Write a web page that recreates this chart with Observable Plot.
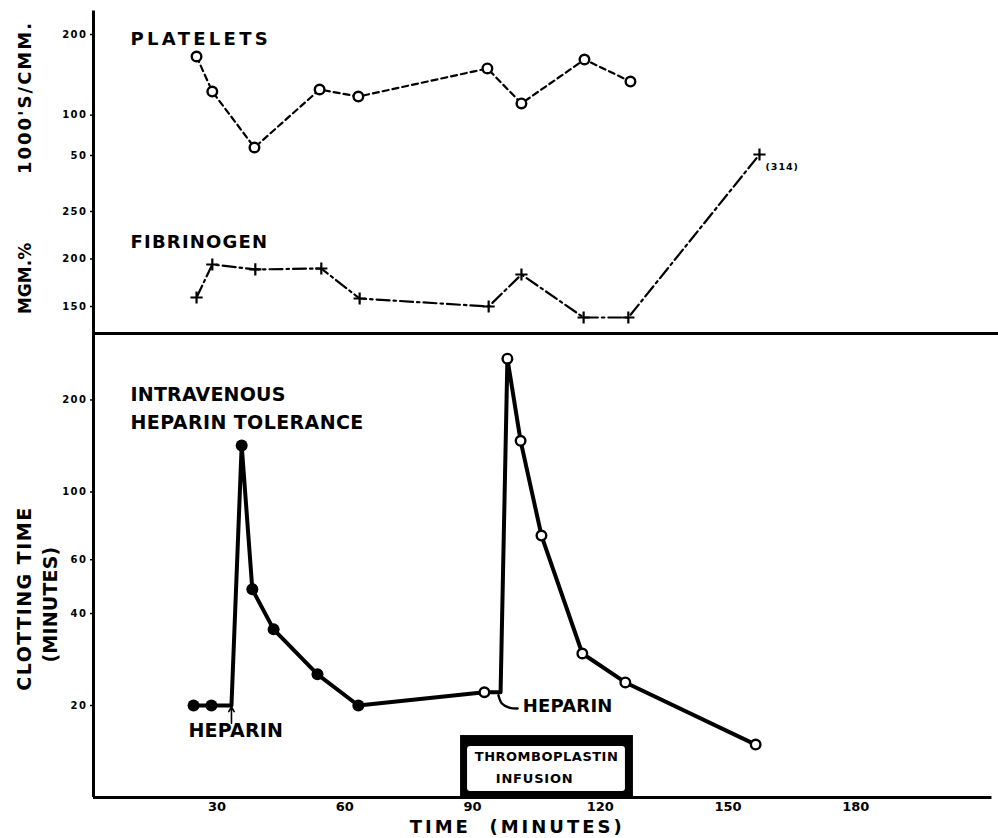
<!DOCTYPE html>
<html>
<head>
<meta charset="utf-8">
<script src="https://cdn.jsdelivr.net/npm/d3@7"></script>
<script src="https://cdn.jsdelivr.net/npm/@observablehq/plot@0.6"></script>
<style>
  body { margin: 0; background: #fff; }
  #chart { position: relative; width: 998px; height: 838px; overflow: hidden; background: #fff; }
  #chart svg { position: absolute; left: 0; top: 0; }
</style>
</head>
<body>
<div id="chart"></div>
<script>
// ---------- data ----------
const timeTicks = [30, 60, 90, 120, 150, 180];

const plateletTime  = [25.2, 28.9, 38.8, 54.1, 63.2, 93.5, 101.5, 116.3, 127.1];
const plateletValue = [172.7, 129.3, 59.9, 131.8, 123.1, 157.9, 114.5, 169, 141.7];
const plateletTicks = [50, 100, 200];

const fibTime  = [25.2, 28.9, 39.0, 54.5, 63.5, 93.8, 101.5, 116.1, 126.6, 157.4];
const fibValue = [159.5, 194.2, 189, 190, 158.4, 150, 183.7, 138.4, 138.4, 310];
const fibTicks = [150, 200, 250];

const clotTime   = [24.5, 28.7, 33.4, 35.8, 38.3, 43.3, 53.6, 63.2, 92.8, 96.6, 98.2, 101.3, 106.2, 115.8, 125.9, 156.5];
const clotValue  = [20, 20, 20, 142, 48, 35.5, 25.3, 20, 22.1, 22.1, 273, 147, 72, 29.6, 23.8, 14.9];
const clotMarker = ["filled","filled","none","filled","filled","filled","filled","filled",
                    "open","none","open","open","open","open","open","open"];
const clotTicks = [20, 40, 60, 100, 200];

const infusionStart = 87.2, infusionEnd = 127.8;

// ---------- tables ----------
const platelets = plateletTime.map((t, i) => ({t, v: plateletValue[i]}));
const fibrinogen = fibTime.map((t, i) => ({t, v: fibValue[i]}));
const clotting = clotTime.map((t, i) => ({t, v: clotValue[i], m: clotMarker[i]}));

const FONT = "DejaVu Sans";
const W = 998, H = 838;
const xScale = {domain: [1, 212.5], range: [93, 993.6], axis: null};
const baseStyle = {background: "transparent", fontFamily: FONT, fontWeight: "bold", overflow: "visible", color: "black"};
const common = {width: W, height: H, marginLeft: 93, marginRight: 0, style: baseStyle};

// ---------- platelets ----------
const p1 = Plot.plot({
  ...common, marginTop: 34, marginBottom: H - 155,
  x: xScale,
  y: {type: "linear", domain: [50, 200], range: [155, 34], axis: null},
  marks: [
    Plot.axisY(plateletTicks, {anchor: "left", tickSize: 3, tickPadding: 3, fontSize: 10, fontWeight: "bold", label: null, strokeWidth: 1.5}),
    Plot.line(platelets, {x: "t", y: "v", stroke: "black", strokeWidth: 2.2, strokeDasharray: "6,4"}),
    Plot.dot(platelets, {x: "t", y: "v", r: 4.8, fill: "white", stroke: "black", strokeWidth: 2.4}),
    Plot.text(["PLATELETS"], {x: 9.7, y: 194.4, text: d => d, textAnchor: "start", fontSize: 18, fontWeight: "bold"}),
    Plot.text(["1000'S/CMM."], {x: -15, y: 121.9, text: d => d, rotate: -90, fontSize: 18, fontWeight: "bold"})
  ]
});

// ---------- fibrinogen ----------
const p2 = Plot.plot({
  ...common, marginTop: 211, marginBottom: H - 306,
  x: xScale,
  y: {type: "linear", domain: [150, 250], range: [306, 211], axis: null},
  marks: [
    Plot.axisY(fibTicks, {anchor: "left", tickSize: 3, tickPadding: 3, fontSize: 10, fontWeight: "bold", label: null, strokeWidth: 1.5}),
    Plot.line(fibrinogen, {x: "t", y: "v", stroke: "black", strokeWidth: 2.2, strokeDasharray: "13,4,2.5,4"}),
    Plot.dot(fibrinogen, {x: "t", y: "v", symbol: "plus", r: 4, stroke: "black", strokeWidth: 2.2}),
    Plot.text(["FIBRINOGEN"], {x: 9.7, y: 217.9, text: d => d, textAnchor: "start", fontSize: 18, fontWeight: "bold"}),
    Plot.text(["(314)"], {x: 158.8, y: 297.4, text: d => d, textAnchor: "start", fontSize: 9.5, fontWeight: "bold"}),
    Plot.text(["MGM.%"], {x: -15, y: 179.5, text: d => d, rotate: -90, fontSize: 17, fontWeight: "bold"})
  ]
});

// ---------- clotting time ----------
const p3 = Plot.plot({
  ...common, marginTop: 333, marginBottom: 41,
  x: xScale,
  y: {type: "log", domain: [10, 330], range: [797, 333], axis: null},
  marks: [
    // infusion box
    Plot.rect([0], {x1: infusionStart, x2: infusionEnd, y1: 10, y2: 15.95, fill: "black"}),
    Plot.rect([0], {x1: infusionStart, x2: infusionEnd, y1: 10, y2: 15.95, fill: "white",
                    insetLeft: 7, insetRight: 8, insetTop: 11, insetBottom: 6, rx: 3}),
    Plot.text(["THROMBOPLASTIN"], {x: 107.4, y: 13.6, text: d => d, fontSize: 13, fontWeight: "bold"}),
    Plot.text(["INFUSION"], {x: 104.6, y: 11.5, text: d => d, fontSize: 13, fontWeight: "bold"}),
    // frame
    Plot.ruleX([1], {y1: 10, y2: 3750, strokeWidth: 3}),
    Plot.ruleY([10], {x1: 1, x2: 212, strokeWidth: 3}),
    Plot.ruleY([330], {x1: 1, x2: 214, strokeWidth: 3}),
    // axes
    Plot.axisY(clotTicks, {anchor: "left", tickSize: 3, tickPadding: 3, fontSize: 10, fontWeight: "bold", label: null, strokeWidth: 1.5}),
    Plot.axisX(timeTicks, {anchor: "bottom", tickSize: 0, tickPadding: 4, fontSize: 13, fontWeight: "bold", label: null}),
    // series
    Plot.line(clotting, {x: "t", y: "v", stroke: "black", strokeWidth: 4, strokeLinejoin: "round"}),
    Plot.dot(clotting.filter(d => d.m === "filled"), {x: "t", y: "v", r: 6, fill: "black"}),
    Plot.dot(clotting.filter(d => d.m === "open"), {x: "t", y: "v", r: 4.8, fill: "white", stroke: "black", strokeWidth: 2.4}),
    // heparin annotations
    Plot.arrow([0], {x1: 33.4, x2: 33.4, y1: 17.5, y2: 19.8, strokeWidth: 1.6, headLength: 6}),
    Plot.line([{t: 96.1, v: 21.6}, {t: 96.9, v: 20.3}, {t: 98.6, v: 19.7}, {t: 100.6, v: 19.55}],
              {x: "t", y: "v", stroke: "black", strokeWidth: 2.4, curve: "catmull-rom"}),
    Plot.text(["HEPARIN"], {x: 23.3, y: 16.5, text: d => d, textAnchor: "start", fontSize: 19, fontWeight: "bold"}),
    Plot.text(["HEPARIN"], {x: 101.8, y: 19.9, text: d => d, textAnchor: "start", fontSize: 18, fontWeight: "bold"}),
    Plot.text(["INTRAVENOUS"], {x: 9.7, y: 207.6, text: d => d, textAnchor: "start", fontSize: 19, fontWeight: "bold"}),
    Plot.text(["HEPARIN TOLERANCE"], {x: 9.7, y: 168.1, text: d => d, textAnchor: "start", fontSize: 19, fontWeight: "bold"}),
    // axis titles
    Plot.text(["CLOTTING TIME"], {x: -15, y: 44.8, text: d => d, rotate: -90, fontSize: 19, fontWeight: "bold"}),
    Plot.text(["(MINUTES)"], {x: -9.1, y: 42.8, text: d => d, rotate: -90, fontSize: 19, fontWeight: "bold"}),
    Plot.text(["TIME  (MINUTES)"], {x: 100.5, y: 7.97, text: d => d, fontSize: 18, fontWeight: "bold"})
  ]
});

const chart = document.getElementById("chart");
[p3, p2, p1].forEach(svg => chart.appendChild(svg));

// letter spacing tweaks for the typewritten look
const spacing = {
  "PLATELETS": 3.3, "FIBRINOGEN": 1.2, "INTRAVENOUS": 0.2, "HEPARIN TOLERANCE": 0.4,
  "HEPARIN": 0.2, "TIME  (MINUTES)": 3, "CLOTTING TIME": 1.5, "(MINUTES)": 0.2,
  "1000'S/CMM.": 2, "MGM.%": 0, "THROMBOPLASTIN": 0.5, "INFUSION": 0.8, "(314)": 1
};
chart.querySelectorAll("text").forEach(el => {
  const s = el.textContent;
  if (s in spacing) el.style.letterSpacing = spacing[s] + "px";
  else if (/^\d+$/.test(s) && el.closest("[aria-label='y-axis tick label']")) el.style.letterSpacing = "1.5px";
});
</script>
</body>
</html>
